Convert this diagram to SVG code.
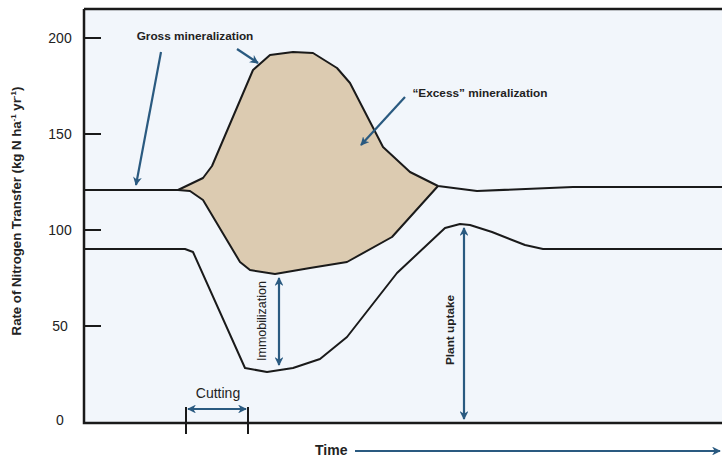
<svg xmlns="http://www.w3.org/2000/svg" width="722" height="457" viewBox="0 0 722 457">
<defs>
<marker id="ah" viewBox="0 0 10 10" refX="9" refY="5" markerWidth="4" markerHeight="4" orient="auto-start-reverse" markerUnits="strokeWidth">
<path d="M0,0 L10,5 L0,10 L3,5 Z" fill="#2a5a80"/>
</marker>
<style>
.ax{stroke:#1a1a1a;stroke-width:2.5;fill:none}
.tk{stroke:#1a1a1a;stroke-width:2;fill:none}
.cv{stroke:#1a1a1a;stroke-width:2;fill:none;stroke-linejoin:round}
.ar{stroke:#2a5a80;stroke-width:2.2;fill:none;marker-end:url(#ah)}
.ar2{stroke:#2a5a80;stroke-width:2.2;fill:none;marker-end:url(#ah);marker-start:url(#ah)}
.num{font-family:"Liberation Sans",Arial,sans-serif;font-size:14px;fill:#222;text-anchor:middle}
.lb{font-family:"Liberation Sans",Arial,sans-serif;font-size:11.8px;font-weight:bold;fill:#222}
.yl{font-family:"Liberation Sans",Arial,sans-serif;font-size:13.2px;font-weight:bold;fill:#222}
.tm{font-family:"Liberation Sans",Arial,sans-serif;font-size:14px;font-weight:bold;fill:#222}
.im{font-family:"Liberation Sans",Arial,sans-serif;font-size:12.5px;fill:#222}
.ct{font-family:"Liberation Sans",Arial,sans-serif;font-size:14px;fill:#222}
</style>
</defs>
<rect width="722" height="457" fill="#ffffff"/>
<rect x="84" y="9" width="640" height="414" fill="#f2f6fb"/>
<g id="excess-area">
<path d="M178,190 L203,178 L212,166 L253,70 L270,55 L293,52 L313,53 L337,68 L350,83 L383,147 L410,172 L438,186 L392,237 L347,262 L310,268 L275,274 L250,270 L240,262 L203,200 L190,191 Z" fill="#dccbb1" stroke="none"/>
</g>
<g id="curves">
<path class="cv" d="M84,190 L178,190 L203,178 L212,166 L253,70 L270,55 L293,52 L313,53 L337,68 L350,83 L383,147 L410,172 L438,186 L477,191 L573,187 L722,187"/>
<path class="cv" d="M178,190 L190,191 L203,200 L240,262 L250,270 L275,274 L310,268 L347,262 L392,237 L438,186"/>
<path class="cv" d="M84,249 L185,249 L193,252 L245,368 L267,372 L293,368 L320,359 L347,337 L397,273 L445,228 L460,224 L470,225 L492,232 L525,245 L543,249 L722,249"/>
</g>
<g id="axes">
<path class="ax" d="M84,9 L722,9"/>
<path class="ax" d="M84,9 L84,423 L722,423"/>
<path class="tk" d="M84,38 L101,38 M84,134 L101,134 M84,230 L101,230 M84,326 L101,326"/>
<path class="tk" d="M186,407 L186,434 M248,407 L248,434" stroke-width="1.5"/>
<text class="num" x="60" y="43">200</text>
<text class="num" x="60" y="139">150</text>
<text class="num" x="60" y="235">100</text>
<text class="num" x="60" y="331">50</text>
<text class="num" x="60" y="425">0</text>
<text class="yl" transform="translate(21,211) rotate(-90)" text-anchor="middle">Rate of Nitrogen Transfer (kg N ha<tspan font-size="8" dy="-5">-1</tspan><tspan dy="5"> yr</tspan><tspan font-size="8" dy="-5">-1</tspan><tspan dy="5">)</tspan></text>
<text class="tm" x="315" y="455">Time</text>
</g>
<g id="connectors">
<path class="ar" d="M161,52 L136,185"/>
<path class="ar" d="M237,49 L258,63"/>
<path class="ar" d="M405,97 L361,145"/>
<path class="ar2" d="M279,278 L279,365"/>
<path class="ar2" d="M464,228 L464,419"/>
<path class="ar2" d="M188,409 L246,409"/>
<path class="ar" d="M355,451 L720,451"/>
</g>
<g id="labels">
<text class="lb" x="195" y="40" text-anchor="middle">Gross mineralization</text>
<text class="lb" x="480" y="97" text-anchor="middle">“Excess” mineralization</text>
<text class="im" transform="translate(266,321) rotate(-90)" text-anchor="middle">Immobilization</text>
<text class="lb" transform="translate(454,330) rotate(-90)" text-anchor="middle">Plant uptake</text>
<text class="ct" x="218" y="398" text-anchor="middle">Cutting</text>
</g>
</svg>
